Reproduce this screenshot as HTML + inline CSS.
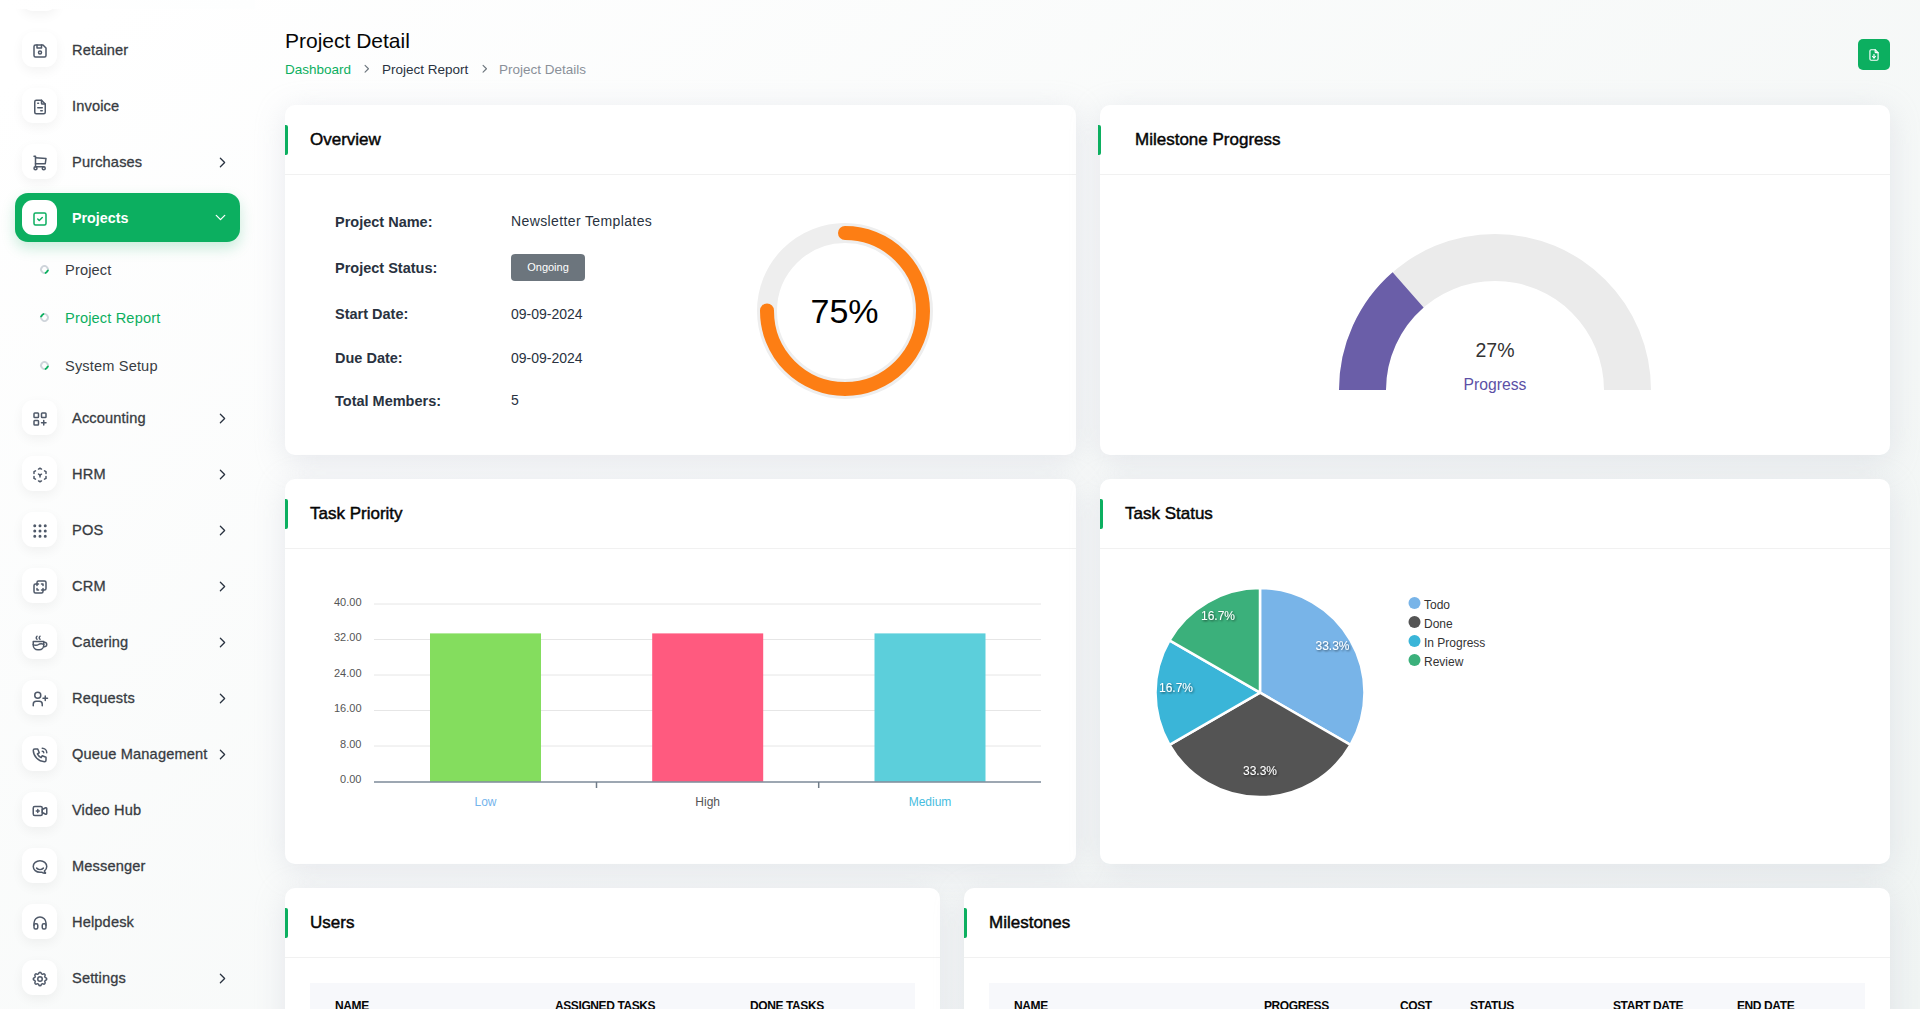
<!DOCTYPE html>
<html><head><meta charset="utf-8">
<style>
*{box-sizing:border-box;margin:0;padding:0}
html,body{width:1920px;height:1009px;overflow:hidden}
body{font-family:"Liberation Sans",sans-serif;background:#fff linear-gradient(141.55deg,rgba(240,244,243,0) 3.46%,#f0f4f3 99.86%);color:#293240;position:relative}
.side{position:absolute;left:0;top:0;width:255px;height:1009px}
.side .ib{position:absolute;left:22px;width:35px;height:35px;border-radius:11px;background:#fff;box-shadow:0 4px 12px rgba(0,0,0,.05)}
.side .ico{position:absolute;left:8.5px;top:9.8px;width:18px;height:18px;fill:none;stroke:#4f5969;stroke-width:2;stroke-linecap:round;stroke-linejoin:round}
.side .lb{position:absolute;left:72px;margin-top:1px;line-height:35px;font-size:14.6px;letter-spacing:.15px;color:#383c42;-webkit-text-stroke:.3px #383c42;white-space:nowrap}
.side .chev{position:absolute;left:213.5px;margin-top:.7px;width:17px;height:17px;fill:none;stroke:#293240;stroke-width:1.8;stroke-linecap:round;stroke-linejoin:round}
.side .chevw{stroke:#fff}
.side .act{position:absolute;left:15px;top:193px;width:225px;height:49px;border-radius:13px;background:#0caf60;box-shadow:0 6px 14px rgba(12,175,96,.22)}
.side .ibact{box-shadow:none}
.side .ibact .ico{stroke:#0caf60}
.side .lbact{color:#fff;-webkit-text-stroke:0;font-weight:bold;font-size:14.3px;letter-spacing:0}
.side .bul{position:absolute;left:40px;width:9px;height:9px;border-radius:50%;border:2px solid #ced4da;border-top-color:#0caf60}
.side .sub{position:absolute;left:65px;font-size:14.6px;letter-spacing:.15px;line-height:20px;color:#383c42;white-space:nowrap}
.side .sa{color:#0caf60}
.card{position:absolute;background:#fff;border-radius:10px;box-shadow:0 6px 30px rgba(182,186,203,.3)}
.ch-h{position:absolute;left:0;top:0;right:0;height:70px;border-bottom:1px solid #f1f1f1}
.ch-h::before{content:"";position:absolute;left:0;top:20px;width:3px;height:30px;background:#0caf60;border-radius:0 2px 2px 0}
.ch-h h5{position:absolute;left:25px;top:1px;line-height:68px;font-size:17px;font-weight:normal;-webkit-text-stroke:.45px #060606;color:#060606;white-space:nowrap}

.ptitle{position:absolute;left:285px;top:29px;font-size:21px;color:#060606;white-space:nowrap}
.bc{position:absolute;left:285px;top:61.5px;font-size:13.5px;line-height:16px;white-space:nowrap;width:400px;height:16px}
.bch{position:absolute;top:.6px;width:13.5px;height:13.5px;fill:none;stroke:#6c757d;stroke-width:2;stroke-linecap:round;stroke-linejoin:round}
.dlbtn{position:absolute;left:1858px;top:39px;width:32px;height:31px;border-radius:5px;background:#0caf60}
.dlbtn svg{position:absolute;left:9px;top:8.5px;width:14px;height:14px;fill:none;stroke:#fff;stroke-width:2;stroke-linecap:round;stroke-linejoin:round}
.ol{position:absolute;left:50px;font-size:14.5px;font-weight:bold;line-height:18px;color:#293240;white-space:nowrap}
.ov{position:absolute;left:226px;font-size:14px;letter-spacing:.38px;line-height:18px;color:#293240;white-space:nowrap}
.badge{position:absolute;left:226px;width:74px;height:27px;border-radius:4px;background:#6c757d;color:#fff;font-size:11px;line-height:27px;text-align:center}
.pct{position:absolute;left:509.5px;top:187px;width:100px;text-align:center;font-size:34px;line-height:38px;color:#000}
.g27{position:absolute;left:345px;top:233.5px;width:100px;text-align:center;font-size:19.5px;line-height:22px;color:#333}
.gprog{position:absolute;left:345px;top:269.5px;width:100px;text-align:center;font-size:15.7px;line-height:20px;color:#5c50a6}
.th{position:absolute;top:95px;height:40px;background:#f7f8fb}
.th span{position:absolute;top:16px;font-size:12px;letter-spacing:-.4px;font-weight:bold;color:#060606;white-space:nowrap}
.od{letter-spacing:0}
.mp::before{left:-2px}
</style></head><body>
<div class="side">
<div style="position:absolute;left:0;top:0;width:255px;height:9px;background:linear-gradient(90deg,#fff,#fdfefe);z-index:2"></div>
<div class="ib" style="top:-24px"></div>
<div class="ib" style="top:32px"><svg class="ico" viewBox="0 0 24 24"><path d="M6 4h10l4 4v10a2 2 0 0 1 -2 2h-12a2 2 0 0 1 -2 -2v-12a2 2 0 0 1 2 -2"/><path d="M10 14a2 2 0 1 0 4 0a2 2 0 1 0 -4 0"/><path d="M14 4l0 4l-6 0l0 -4"/></svg></div><div class="lb" style="top:32px">Retainer</div>
<div class="ib" style="top:88px"><svg class="ico" viewBox="0 0 24 24"><path d="M14 3v4a1 1 0 0 0 1 1h4"/><path d="M17 21h-10a2 2 0 0 1 -2 -2v-14a2 2 0 0 1 2 -2h7l5 5v11a2 2 0 0 1 -2 2z"/><path d="M9 7l1 0"/><path d="M9 13l6 0"/><path d="M13 17l2 0"/></svg></div><div class="lb" style="top:88px">Invoice</div>
<div class="ib" style="top:144px"><svg class="ico" viewBox="0 0 24 24"><path d="M4 19a2 2 0 1 0 4 0a2 2 0 1 0 -4 0"/><path d="M15 19a2 2 0 1 0 4 0a2 2 0 1 0 -4 0"/><path d="M17 17h-11v-14h-2"/><path d="M6 5l14 1l-1 7h-13"/></svg></div><div class="lb" style="top:144px">Purchases</div>
<svg class="chev" style="top:153px" viewBox="0 0 24 24"><path d="M9 6l6 6l-6 6"/></svg>
<div class="ib" style="top:400px"><svg class="ico" viewBox="0 0 24 24"><path d="M4 5a1 1 0 0 1 1 -1h4a1 1 0 0 1 1 1v4a1 1 0 0 1 -1 1h-4a1 1 0 0 1 -1 -1z"/><path d="M14 5a1 1 0 0 1 1 -1h4a1 1 0 0 1 1 1v4a1 1 0 0 1 -1 1h-4a1 1 0 0 1 -1 -1z"/><path d="M4 15a1 1 0 0 1 1 -1h4a1 1 0 0 1 1 1v4a1 1 0 0 1 -1 1h-4a1 1 0 0 1 -1 -1z"/><path d="M14 17h6m-3 -3v6"/></svg></div><div class="lb" style="top:400px">Accounting</div>
<svg class="chev" style="top:409px" viewBox="0 0 24 24"><path d="M9 6l6 6l-6 6"/></svg>
<div class="ib" style="top:456px"><svg class="ico" viewBox="0 0 24 24"><path d="M6 17.6l-2 -1.1v-2.5"/><path d="M4 10v-2.5l2 -1.1"/><path d="M10 4.1l2 -1.1l2 1.1"/><path d="M18 6.4l2 1.1v2.5"/><path d="M20 14v2.5l-2 1.12"/><path d="M14 19.9l-2 1.1l-2 -1.1"/><path d="M12 12l2 -1.1"/><path d="M12 12l0 2.5"/><path d="M12 12l-2 -1.12"/></svg></div><div class="lb" style="top:456px">HRM</div>
<svg class="chev" style="top:465px" viewBox="0 0 24 24"><path d="M9 6l6 6l-6 6"/></svg>
<div class="ib" style="top:512px"><svg class="ico" viewBox="0 0 24 24"><circle cx="5" cy="5" r="1"/><circle cx="5" cy="12" r="1"/><circle cx="5" cy="19" r="1"/><circle cx="12" cy="5" r="1"/><circle cx="12" cy="12" r="1"/><circle cx="12" cy="19" r="1"/><circle cx="19" cy="5" r="1"/><circle cx="19" cy="12" r="1"/><circle cx="19" cy="19" r="1"/></svg></div><div class="lb" style="top:512px">POS</div>
<svg class="chev" style="top:521px" viewBox="0 0 24 24"><path d="M9 6l6 6l-6 6"/></svg>
<div class="ib" style="top:568px"><svg class="ico" viewBox="0 0 24 24"><path d="M16 16v2a2 2 0 0 1 -2 2h-8a2 2 0 0 1 -2 -2v-8a2 2 0 0 1 2 -2h2v-2a2 2 0 0 1 2 -2h8a2 2 0 0 1 2 2v8a2 2 0 0 1 -2 2h-2"/><path d="M10 8l-2 0l0 2"/><path d="M8 14l0 2l2 0"/><path d="M14 8l2 0l0 2"/><path d="M16 14l0 2l-2 0"/></svg></div><div class="lb" style="top:568px">CRM</div>
<svg class="chev" style="top:577px" viewBox="0 0 24 24"><path d="M9 6l6 6l-6 6"/></svg>
<div class="ib" style="top:624px"><svg class="ico" viewBox="0 0 24 24"><path d="M3 14c.83 .642 2.077 1.017 3.5 1c1.423 .017 2.67 -.358 3.5 -1c.83 -.642 2.077 -1.017 3.5 -1c1.423 -.017 2.67 .358 3.5 1"/><path d="M8 3a2.4 2.4 0 0 0 -1 2a2.4 2.4 0 0 0 1 2"/><path d="M12 3a2.4 2.4 0 0 0 -1 2a2.4 2.4 0 0 0 1 2"/><path d="M3 10h14v5a6 6 0 0 1 -6 6h-2a6 6 0 0 1 -6 -6v-5z"/><path d="M16.746 16.726a3 3 0 1 0 .252 -5.555"/></svg></div><div class="lb" style="top:624px">Catering</div>
<svg class="chev" style="top:633px" viewBox="0 0 24 24"><path d="M9 6l6 6l-6 6"/></svg>
<div class="ib" style="top:680px"><svg class="ico" viewBox="0 0 24 24"><circle cx="9" cy="7" r="4"/><path d="M3 21v-2a4 4 0 0 1 4 -4h4a4 4 0 0 1 4 4v2"/><path d="M16 11h6m-3 -3v6"/></svg></div><div class="lb" style="top:680px">Requests</div>
<svg class="chev" style="top:689px" viewBox="0 0 24 24"><path d="M9 6l6 6l-6 6"/></svg>
<div class="ib" style="top:736px"><svg class="ico" viewBox="0 0 24 24"><path d="M5 4h4l2 5l-2.5 1.5a11 11 0 0 0 5 5l1.5 -2.5l5 2v4a2 2 0 0 1 -2 2a16 16 0 0 1 -15 -15a2 2 0 0 1 2 -2"/><path d="M15 7a2 2 0 0 1 2 2"/><path d="M15 3a6 6 0 0 1 6 6"/></svg></div><div class="lb" style="top:736px">Queue Management</div>
<svg class="chev" style="top:745px" viewBox="0 0 24 24"><path d="M9 6l6 6l-6 6"/></svg>
<div class="ib" style="top:792px"><svg class="ico" viewBox="0 0 24 24"><path d="M15 10l4.553 -2.276a1 1 0 0 1 1.447 .894v6.764a1 1 0 0 1 -1.447 .894l-4.553 -2.276v-4z"/><path d="M3 8a2 2 0 0 1 2 -2h8a2 2 0 0 1 2 2v8a2 2 0 0 1 -2 2h-8a2 2 0 0 1 -2 -2z"/><path d="M7 12l4 0"/><path d="M9 10l0 4"/></svg></div><div class="lb" style="top:792px">Video Hub</div>
<div class="ib" style="top:848px"><svg class="ico" viewBox="0 0 24 24"><path d="M17.802 17.292s.077 -.055 .2 -.149c1.843 -1.425 3 -3.49 3 -5.786c0 -4.28 -4.03 -7.757 -9 -7.757c-4.97 0 -9 3.476 -9 7.757c0 4.282 4.03 7.643 9 7.643c.424 0 1.12 -.028 2.088 -.085c1.262 .82 3.104 1.493 4.716 1.493c.499 0 .734 -.41 .414 -.828c-.486 -.596 -1.156 -1.551 -1.416 -2.29z"/><path d="M7.5 13.5c2.5 2.5 6.5 2.5 9 0"/></svg></div><div class="lb" style="top:848px">Messenger</div>
<div class="ib" style="top:904px"><svg class="ico" viewBox="0 0 24 24"><path d="M4 15a2 2 0 0 1 2 -2h1a2 2 0 0 1 2 2v3a2 2 0 0 1 -2 2h-1a2 2 0 0 1 -2 -2z"/><path d="M15 15a2 2 0 0 1 2 -2h1a2 2 0 0 1 2 2v3a2 2 0 0 1 -2 2h-1a2 2 0 0 1 -2 -2z"/><path d="M4 15v-3a8 8 0 0 1 16 0v3"/></svg></div><div class="lb" style="top:904px">Helpdesk</div>
<div class="ib" style="top:960px"><svg class="ico" viewBox="0 0 24 24"><path d="M10.325 4.317c.426 -1.756 2.924 -1.756 3.35 0a1.724 1.724 0 0 0 2.573 1.066c1.543 -.94 3.31 .826 2.37 2.37a1.724 1.724 0 0 0 1.065 2.572c1.756 .426 1.756 2.924 0 3.35a1.724 1.724 0 0 0 -1.066 2.573c.94 1.543 -.826 3.31 -2.37 2.37a1.724 1.724 0 0 0 -2.572 1.065c-.426 1.756 -2.924 1.756 -3.35 0a1.724 1.724 0 0 0 -2.573 -1.066c-1.543 .94 -3.31 -.826 -2.37 -2.37a1.724 1.724 0 0 0 -1.065 -2.572c-1.756 -.426 -1.756 -2.924 0 -3.35a1.724 1.724 0 0 0 1.066 -2.573c-.94 -1.543 .826 -3.31 2.37 -2.37c1 .608 2.296 .07 2.572 -1.065z"/><path d="M9 12a3 3 0 1 0 6 0a3 3 0 0 0 -6 0"/></svg></div><div class="lb" style="top:960px">Settings</div>
<svg class="chev" style="top:969px" viewBox="0 0 24 24"><path d="M9 6l6 6l-6 6"/></svg>
<div class="act"></div><div class="ib ibact" style="top:200px"><svg class="ico" viewBox="0 0 24 24"><path d="M4 6a2 2 0 0 1 2 -2h12a2 2 0 0 1 2 2v12a2 2 0 0 1 -2 2h-12a2 2 0 0 1 -2 -2z"/><path d="M9 12l2 2l4 -4"/></svg></div><div class="lb lbact" style="top:200px">Projects</div>
<svg class="chev chevw" style="top:208.2px;left:211.8px" viewBox="0 0 24 24"><path d="M6 9l6 6l6 -6"/></svg>
<i class="bul" style="top:265px;transform:rotate(135deg)"></i><div class="sub" style="top:260px">Project</div>
<i class="bul" style="top:313px;transform:rotate(-45deg)"></i><div class="sub sa" style="top:308px">Project Report</div>
<i class="bul" style="top:361px;transform:rotate(135deg)"></i><div class="sub" style="top:356px">System Setup</div>
</div>
<div id="main">
<div class="ptitle">Project Detail</div>
<div class="bc"><span style="color:#0caf60">Dashboard</span><svg class="bch" style="left:75.3px" viewBox="0 0 24 24"><path d="M9 6l6 6l-6 6"/></svg><span style="position:absolute;left:97px;color:#293240">Project Report</span><svg class="bch" style="left:192.8px" viewBox="0 0 24 24"><path d="M9 6l6 6l-6 6"/></svg><span style="position:absolute;left:214px;color:#8a9099">Project Details</span></div>
<div class="dlbtn"><svg viewBox="0 0 24 24"><path d="M14 3v4a1 1 0 0 0 1 1h4"/><path d="M17 21h-10a2 2 0 0 1 -2 -2v-14a2 2 0 0 1 2 -2h7l5 5v11a2 2 0 0 1 -2 2z"/><path d="M12 17v-6"/><path d="M9.5 14.5l2.5 2.5l2.5 -2.5"/></svg></div>

<div class="card" style="left:285px;top:105px;width:791px;height:350px"><div class="ch-h"><h5>Overview</h5></div>
 <div class="ol" style="top:107.5px">Project Name:</div><div class="ov" style="top:107px">Newsletter Templates</div>
 <div class="ol" style="top:154px">Project Status:</div><div class="badge" style="top:149px">Ongoing</div>
 <div class="ol" style="top:200px">Start Date:</div><div class="ov od" style="top:199.5px">09-09-2024</div>
 <div class="ol" style="top:244px">Due Date:</div><div class="ov od" style="top:243.5px">09-09-2024</div>
 <div class="ol" style="top:287px">Total Members:</div><div class="ov" style="top:286px">5</div>
 <svg style="position:absolute;left:459.5px;top:106px" width="200" height="200" viewBox="0 0 200 200">
  <circle cx="100" cy="100" r="78" fill="none" stroke="#eeeeee" stroke-width="20"/>
  <circle cx="100" cy="100" r="78" fill="none" stroke="#fd7e14" stroke-width="14" stroke-linecap="round" stroke-dasharray="367.6 1000" transform="rotate(-90 100 100)"/>
 </svg>
 <div class="pct">75%</div>
</div>

<div class="card" style="left:1100px;top:105px;width:790px;height:350px"><div class="ch-h mp"><h5 style="left:35px">Milestone Progress</h5></div>
 <svg style="position:absolute;left:239px;top:129px" width="312" height="157" viewBox="0 0 312 157">
  <path d="M0 156 A156 156 0 0 1 312 156 L265 156 A109 109 0 0 0 47 156 Z" fill="#ebebeb"/>
  <path d="M0 156 A156 156 0 0 1 53.6 38.3 L84.6 73.5 A109 109 0 0 0 47 156 Z" fill="#6a5ea8"/>
 </svg>
 <div class="g27">27%</div><div class="gprog">Progress</div>
</div>

<div class="card" style="left:285px;top:479px;width:791px;height:385px"><div class="ch-h"><h5>Task Priority</h5></div>
 <svg style="position:absolute;left:0;top:0" width="791" height="384">
  <g stroke="#e6e6e6" stroke-width="1">
   <line x1="89" x2="756" y1="125" y2="125"/><line x1="89" x2="756" y1="160.5" y2="160.5"/><line x1="89" x2="756" y1="196" y2="196"/><line x1="89" x2="756" y1="231.5" y2="231.5"/><line x1="89" x2="756" y1="267" y2="267"/>
  </g>
  <rect x="145" y="154.4" width="111" height="148.4" fill="#84dd5e"/>
  <rect x="367.2" y="154.4" width="111" height="148.4" fill="#ff5a7f"/>
  <rect x="589.5" y="154.4" width="111" height="148.4" fill="#5ccfdb"/>
  <line x1="89" x2="756" y1="303" y2="303" stroke="#7d8a98" stroke-width="1.6"/>
  <line x1="311.5" x2="311.5" y1="303" y2="309" stroke="#707c88" stroke-width="1.5"/>
  <line x1="533.7" x2="533.7" y1="303" y2="309" stroke="#707c88" stroke-width="1.5"/>
  <g font-family="Liberation Sans" font-size="11" fill="#555" text-anchor="end">
   <text x="76.5" y="127">40.00</text><text x="76.5" y="161.5">32.00</text><text x="76.5" y="197.5">24.00</text><text x="76.5" y="232.5">16.00</text><text x="76.5" y="269">8.00</text><text x="76.5" y="303.5">0.00</text>
  </g>
  <g font-family="Liberation Sans" font-size="12" text-anchor="middle">
   <text x="200.5" y="327" fill="#74b4ec">Low</text><text x="422.7" y="327" fill="#555">High</text><text x="645" y="327" fill="#47bde0">Medium</text>
  </g>
 </svg>
</div>

<div class="card" style="left:1100px;top:479px;width:790px;height:385px"><div class="ch-h"><h5>Task Status</h5></div>
 <svg style="position:absolute;left:0;top:0" width="790" height="384">
  <defs><filter id="ts" x="-20%" y="-20%" width="140%" height="140%"><feDropShadow dx="1" dy="1" stdDeviation="0.8" flood-color="#000" flood-opacity="0.6"/></filter></defs>
  <g stroke="#fff" stroke-width="2.5" stroke-linejoin="round">
   <path transform="translate(0 .6)" d="M160 213 L160.00 108.50 A104.5 104.5 0 0 1 250.50 265.25 Z" fill="#78b4e8"/>
   <path transform="translate(0 .6)" d="M160 213 L250.50 265.25 A104.5 104.5 0 0 1 69.50 265.25 Z" fill="#545454"/>
   <path transform="translate(0 .6)" d="M160 213 L69.50 265.25 A104.5 104.5 0 0 1 69.50 160.75 Z" fill="#3ab5d8"/>
   <path transform="translate(0 .6)" d="M160 213 L69.50 160.75 A104.5 104.5 0 0 1 160.00 108.50 Z" fill="#3bb07b"/>
  </g>
  <g font-family="Liberation Sans" font-size="12" fill="#fff" text-anchor="middle" filter="url(#ts)">
   <text x="232.5" y="171">33.3%</text><text x="160" y="296">33.3%</text><text x="76" y="213">16.7%</text><text x="118" y="141">16.7%</text>
  </g>
  <g font-family="Liberation Sans" font-size="12" fill="#333">
   <circle cx="314.5" cy="124" r="6" fill="#78b4e8"/><text x="324" y="129.7">Todo</text>
   <circle cx="314.5" cy="143" r="6" fill="#545454"/><text x="324" y="148.7">Done</text>
   <circle cx="314.5" cy="162" r="6" fill="#3ab5d8"/><text x="324" y="167.7">In Progress</text>
   <circle cx="314.5" cy="181" r="6" fill="#3bb07b"/><text x="324" y="186.7">Review</text>
  </g>
 </svg>
</div>

<div class="card" style="left:285px;top:888px;width:655px;height:200px"><div class="ch-h"><h5>Users</h5></div>
 <div class="th" style="left:25px;width:605px"><span style="left:25px">NAME</span><span style="left:245px">ASSIGNED TASKS</span><span style="left:440px">DONE TASKS</span></div>
</div>
<div class="card" style="left:964px;top:888px;width:926px;height:200px"><div class="ch-h"><h5>Milestones</h5></div>
 <div class="th" style="left:25px;width:876px"><span style="left:25px">NAME</span><span style="left:275px">PROGRESS</span><span style="left:411px">COST</span><span style="left:481px">STATUS</span><span style="left:624px">START DATE</span><span style="left:748px">END DATE</span></div>
</div>
</div>
</body></html>
